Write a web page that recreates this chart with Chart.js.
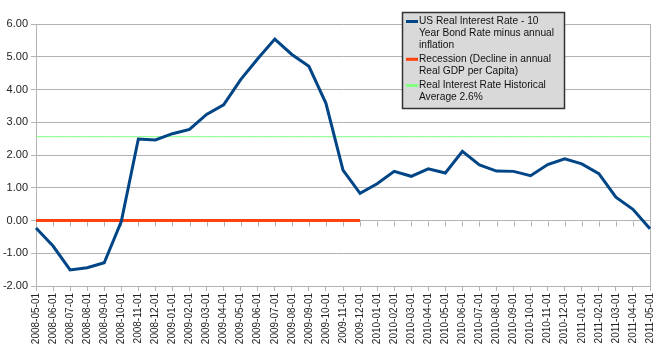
<!DOCTYPE html>
<html>
<head>
<meta charset="utf-8">
<script src="https://cdn.jsdelivr.net/npm/chart.js@4.4.1/dist/chart.umd.min.js"></script>
<style>
  html, body { margin: 0; padding: 0; background: #ffffff; }
  #wrap { position: relative; width: 664px; height: 354px; }
</style>
</head>
<body>
<div id="wrap"><canvas id="c" width="664" height="354"></canvas></div>
<script>
const categories = [
  "2008-05-01","2008-06-01","2008-07-01","2008-08-01","2008-09-01","2008-10-01",
  "2008-11-01","2008-12-01","2009-01-01","2009-02-01","2009-03-01","2009-04-01",
  "2009-05-01","2009-06-01","2009-07-01","2009-08-01","2009-09-01","2009-10-01",
  "2009-11-01","2009-12-01","2010-01-01","2010-02-01","2010-03-01","2010-04-01",
  "2010-05-01","2010-06-01","2010-07-01","2010-08-01","2010-09-01","2010-10-01",
  "2010-11-01","2010-12-01","2011-01-01","2011-02-01","2011-03-01","2011-04-01",
  "2011-05-01"
];
const realRate = [
  -0.23, -0.78, -1.51, -1.44, -1.29, -0.03,
  2.49, 2.46, 2.65, 2.78, 3.24, 3.53,
  4.30, 4.94, 5.54, 5.07, 4.71, 3.58,
  1.54, 0.83, 1.12, 1.50, 1.35, 1.58,
  1.45, 2.11, 1.70, 1.51, 1.50, 1.37,
  1.71, 1.88, 1.73, 1.43, 0.71, 0.34,
  -0.25
];
const recession = [
  0,0,0,0,0,0,0,0,0,0,0,0,0,0,0,0,0,0,0,0,
  null,null,null,null,null,null,null,null,null,null,null,null,null,null,null,null,null
];
const historicalAverage = [
  2.56,2.56,2.56,2.56,2.56,2.56,2.56,2.56,2.56,2.56,2.56,2.56,2.56,2.56,2.56,2.56,2.56,2.56,2.56,
  2.56,2.56,2.56,2.56,2.56,2.56,2.56,2.56,2.56,2.56,2.56,2.56,2.56,2.56,2.56,2.56,2.56,2.56
];
const seriesNames = [
  "US Real Interest Rate - 10 Year Bond Rate minus annual inflation",
  "Recession (Decline in annual Real GDP per Capita)",
  "Real Interest Rate Historical Average 2.6%"
];
const legendLines = [
  ["US Real Interest Rate - 10", "Year Bond Rate minus annual", "inflation"],
  ["Recession (Decline in annual", "Real GDP per Capita)"],
  ["Real Interest Rate Historical", "Average 2.6%"]
];
const yTicks = [-2, -1, 0, 1, 2, 3, 4, 5, 6];

const FONT = "'Liberation Sans', Arial, sans-serif";

const zeroTicks = {
  id: 'zeroTicks',
  beforeDatasetsDraw(chart) {
    const ctx = chart.ctx, x = chart.scales.x, y = chart.scales.y;
    const y0 = Math.round(y.getPixelForValue(0)) + 0.5;
    ctx.save();
    ctx.strokeStyle = '#b3b3b3';
    ctx.lineWidth = 1;
    ctx.beginPath();
    for (let i = 0; i < categories.length; i++) {
      const px = Math.round(x.getPixelForValue(i)) + 0.5;
      ctx.moveTo(px, y0);
      ctx.lineTo(px, y0 + 5);
    }
    ctx.stroke();
    ctx.beginPath();
    const rx = Math.round(chart.chartArea.right) + 0.5;
    ctx.moveTo(rx, chart.chartArea.top);
    ctx.lineTo(rx, chart.chartArea.bottom);
    ctx.stroke();
    ctx.restore();
  }
};

const boxLegend = {
  id: 'boxLegend',
  afterDraw(chart) {
    const ctx = chart.ctx;
    const bx = 402, by = 12, bw = 162, bh = 96;
    ctx.save();
    ctx.fillStyle = '#d9d9d9';
    ctx.fillRect(bx, by, bw, bh);
    ctx.strokeStyle = '#333333';
    ctx.lineWidth = 1.5;
    ctx.strokeRect(bx + 0.5, by + 0.5, bw, bh);
    ctx.font = '10.2px ' + FONT;
    ctx.textBaseline = 'middle';
    const lineH = 11.6;
    let yy = 21.5;
    chart.data.datasets.forEach((ds, i) => {
      ctx.fillStyle = ds.borderColor;
      ctx.fillRect(406, yy - 1.5, 12, 3);
      ctx.fillStyle = '#111111';
      legendLines[i].forEach((t, k) => {
        ctx.fillText(t, 419, yy + k * lineH);
      });
      yy += legendLines[i].length * lineH + 3;
    });
    ctx.restore();
  }
};

new Chart(document.getElementById('c'), {
  type: 'line',
  data: {
    labels: categories,
    datasets: [
      { label: seriesNames[0], data: realRate, borderColor: '#004586', backgroundColor: '#004586',
        borderWidth: 3, pointRadius: 0, tension: 0, order: 1 },
      { label: seriesNames[1], data: recession, borderColor: '#ff420e', backgroundColor: '#ff420e',
        borderWidth: 3, pointRadius: 0, tension: 0, spanGaps: false, order: 2 },
      { label: seriesNames[2], data: historicalAverage, borderColor: '#80ff80', backgroundColor: '#80ff80',
        borderWidth: 1, pointRadius: 0, tension: 0, order: 3 }
    ]
  },
  options: {
    responsive: false,
    animation: false,
    layout: { padding: { top: 24, right: 10, left: 0, bottom: 0 } },
    plugins: { legend: { display: false }, tooltip: { enabled: false } },
    scales: {
      x: {
        offset: false,
        grid: { display: true, drawOnChartArea: false, drawTicks: true, tickLength: 5, color: '#b3b3b3' },
        border: { display: true, color: '#b3b3b3', width: 1 },
        ticks: { autoSkip: false, minRotation: 90, maxRotation: 90, padding: 2,
                 color: '#222', font: { family: FONT, size: 10 } },
        afterFit(s) { s.height = 354 - 286; }
      },
      y: {
        min: -2, max: 6,
        afterBuildTicks(s) { s.ticks = yTicks.map(v => ({ value: v })); },
        grid: { color: '#b3b3b3', lineWidth: 1, tickLength: 5 },
        border: { display: true, color: '#b3b3b3', width: 1 },
        ticks: { padding: 3, color: '#222', font: { family: FONT, size: 11 },
                 callback: v => Number(v).toFixed(2) },
        afterFit(s) { s.width = 36; }
      }
    }
  },
  plugins: [zeroTicks, boxLegend]
});
</script>
</body>
</html>
